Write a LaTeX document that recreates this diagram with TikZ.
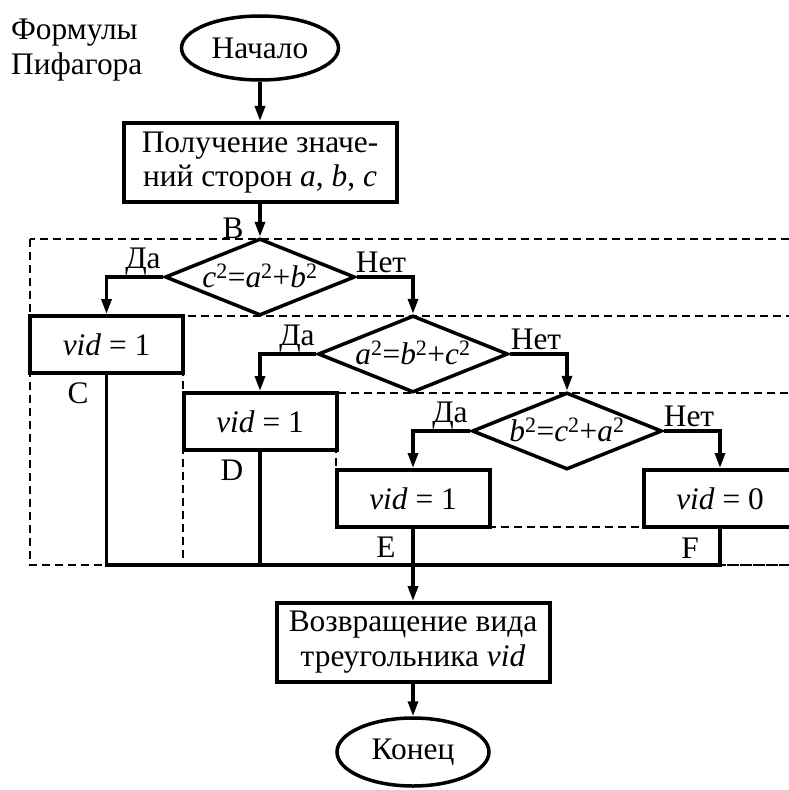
\documentclass[tikz,border=0pt]{standalone}
\usepackage{fontspec}
\setmainfont{Liberation Serif}
\usetikzlibrary{arrows.meta,shapes.geometric}

\newcommand{\sqv}[1]{\textit{#1}\textsuperscript{2}}

\begin{document}
\begin{tikzpicture}[x=1bp,y=-1bp,
  every node/.style={font=\fontsize{31.5}{35}\selectfont, inner sep=0pt},
  proc/.style={draw, line width=4bp, fill=white, minimum width=153bp, minimum height=57bp},
  bigproc/.style={proc, minimum width=273bp, minimum height=79bp, align=center},
  term/.style={draw, ellipse, line width=3.5bp, fill=white},
  cond/.style={draw, diamond, line width=3.5bp, fill=white, minimum width=190bp, minimum height=77bp},
  flow/.style={line width=3.3bp},
  arr/.style={flow, -{Triangle[length=15bp,width=10bp]}},
  region/.style={line width=1.6bp, dash pattern=on 8bp off 5bp}]

\clip (0,0) rectangle (789,790);

% nested branch regions
\draw[region] (30,239) rectangle (805,565);
\draw[region] (183,316) rectangle (805,565);
\draw[region] (336,393) rectangle (805,527);

% title
\node[anchor=west, align=left] (title) at (11,50) {Формулы\\Пифагора};

% blocks
\node[term, minimum width=157bp, minimum height=64bp] (start) at (260,48) {Начало};
\node[bigproc] (get) at (260,162.5) {Получение значе-\\ний сторон \textit{a}, \textit{b}, \textit{c}};

\node[cond] (d1) at (260,277) {};
\node (d1t) at (260,276) {\sqv{c}=\sqv{a}+\sqv{b}};
\node[cond] (d2) at (413,354) {};
\node (d2t) at (413,353) {\sqv{a}=\sqv{b}+\sqv{c}};
\node[cond] (d3) at (567,431) {};
\node (d3t) at (567,430) {\sqv{b}=\sqv{c}+\sqv{a}};

\node[proc] (C) at (106.5,344.5) {\textit{vid} = 1};
\node[proc] (D) at (260,421.5) {\textit{vid} = 1};
\node[proc] (E) at (413,498.5) {\textit{vid} = 1};
\node[proc] (F) at (720,498.5) {\textit{vid} = 0};

\node[bigproc] (G) at (413,642.5) {Возвращение вида\\треугольника \textit{vid}};
\node[term, minimum width=152bp, minimum height=68bp] (end) at (413,752) {Конец};

% branch labels
\node (yes1) at (143,262) {Да};
\node (no1)  at (381,262) {Нет};
\node (yes2) at (297,339) {Да};
\node (no2)  at (536,339) {Нет};
\node (yes3) at (450,416) {Да};
\node (no3)  at (689,416) {Нет};

% point labels
\node (pB) at (233,228) {B};
\node (pC) at (78,393) {C};
\node (pD) at (232,470) {D};
\node (pE) at (386,547) {E};
\node (pF) at (690,548) {F};

% connectors
\draw[arr] (start) -- (get);
\draw[arr] (get) -- (d1);
\draw[arr] (d1.west) -| (C.north);
\draw[arr] (d1.east) -| (d2.north);
\draw[arr] (d2.west) -| (D.north);
\draw[arr] (d2.east) -| (d3.north);
\draw[arr] (d3.west) -| (E.north);
\draw[arr] (d3.east) -| (F.north);

\coordinate (jn) at (413,565);
\draw[flow] (C.south) |- (F.south |- jn) -- (F.south);
\draw[flow] (D.south) -- (D.south |- jn);
\draw[arr] (E.south) -- (G.north);
\draw[arr] (G) -- (end);
\end{tikzpicture}
\end{document}
